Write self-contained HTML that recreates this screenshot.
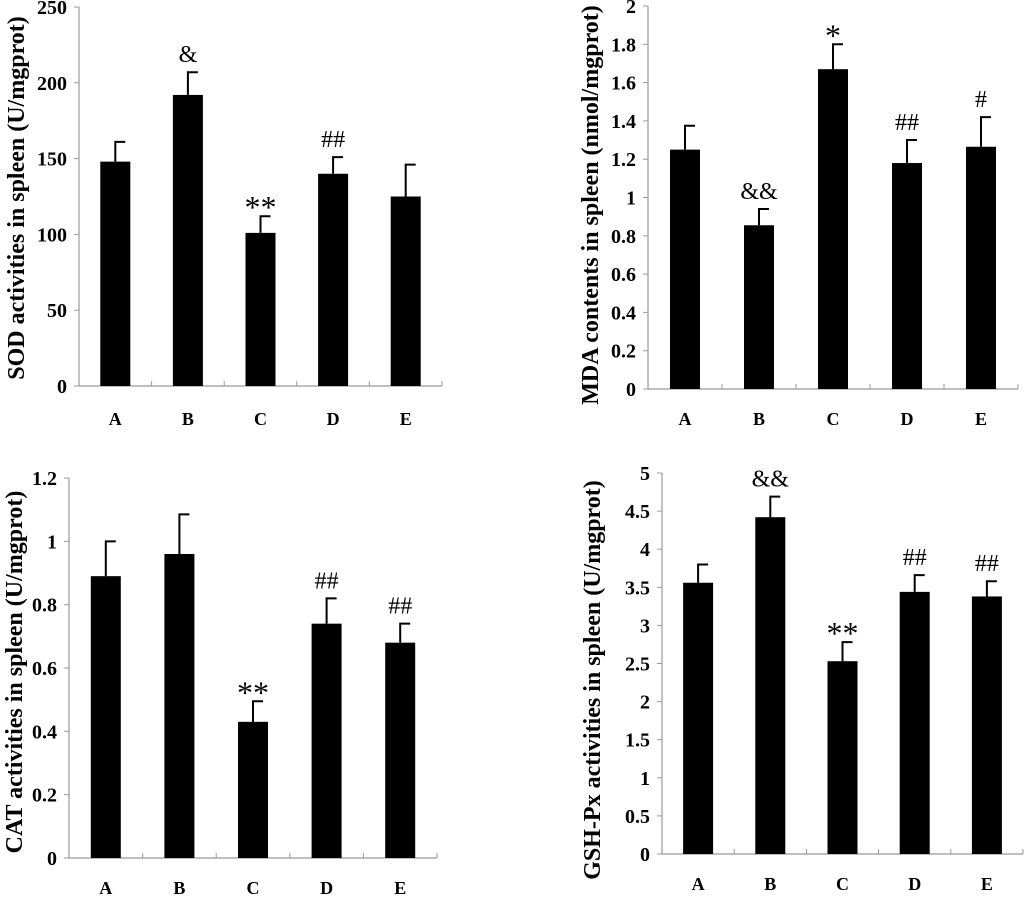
<!DOCTYPE html>
<html><head><meta charset="utf-8"><style>
body{margin:0;background:#fff;}
svg{display:block;font-family:"Liberation Serif",serif;}
.tick{font-weight:bold;font-size:20px;}
.cat{font-weight:bold;font-size:18px;}
.ttl{font-weight:bold;font-size:24px;}
.ann{font-size:24px;}
.star{font-size:32px;}
</style></head><body>
<svg id="c" width="1024" height="897"></svg>
<script>
const categories=["A","B","C","D","E"];
const sodValues=[148,192,101,140,125];
const sodErr=[161,207,112,151,146];
const sodMarks=["","&","**","##",""];
const sodTicks=[0,50,100,150,200,250];
const mdaValues=[1.25,0.855,1.67,1.18,1.265];
const mdaErr=[1.375,0.94,1.80,1.30,1.42];
const mdaMarks=["","&&","*","##","#"];
const mdaTicks=[0,0.2,0.4,0.6,0.8,1,1.2,1.4,1.6,1.8,2];
const catValues=[0.89,0.96,0.43,0.74,0.68];
const catErr=[1.0,1.085,0.495,0.82,0.74];
const catMarks=["","","**","##","##"];
const catTicks=[0,0.2,0.4,0.6,0.8,1,1.2];
const gshValues=[3.56,4.42,2.53,3.44,3.38];
const gshErr=[3.8,4.69,2.78,3.66,3.58];
const gshMarks=["","&&","**","##","##"];
const gshTicks=[0,0.5,1,1.5,2,2.5,3,3.5,4,4.5,5];

const NS="http://www.w3.org/2000/svg";
const svg=document.getElementById('c');
function mk(t,a,p){const e=document.createElementNS(NS,t);for(const k in a)e.setAttribute(k,a[k]);(p||svg).appendChild(e);return e;}

function panel(name,cfg){
  const g=mk('g',{});
  
  
  const {x0,x1,y0,yTop,max,ticks,vals,errs,marks,title,tx,ty,labY}=cfg;
  const ys=v=>y0-(v/max)*(y0-yTop);
  const band=(x1-x0)/categories.length;
  const xs=i=>x0+band*(i+0.5);
  const ax=mk('line',{x1:x0,y1:yTop,x2:x0,y2:y0,stroke:'#999','stroke-width':1.2},g);
  
  const bx=mk('line',{x1:x0,y1:y0,x2:x1,y2:y0,stroke:'#999','stroke-width':1.2},g);
  
  ticks.forEach(t=>{
    const y=ys(t);
    mk('line',{x1:x0-5,y1:y,x2:x0,y2:y,stroke:'#999'},g);
    const tl=mk('text',{x:x0-12,y:y+7,'text-anchor':'end',class:'tick'},g);
    tl.textContent=String(t);
    
  });
  for(let i=0;i<=categories.length;i++){const x=x0+band*i;mk('line',{x1:x,y1:y0,x2:x,y2:y0-5,stroke:'#999'},g);}
  categories.forEach((c,i)=>{
    const cx=xs(i);
    const b=mk('rect',{x:cx-15,y:ys(vals[i]),width:30,height:y0-ys(vals[i]),fill:'#000'},g);
    
    const ey=ys(errs[i]);
    const e=mk('path',{d:`M${cx} ${ys(vals[i])}V${ey}M${cx-1} ${ey}H${cx+10}`,stroke:'#000','stroke-width':2,fill:'none'},g);
    
    if(marks[i]){
      const isStar=marks[i].indexOf('*')>=0;
      const m=mk('text',{x:cx,y:isStar?ey+2:ey-10,'text-anchor':'middle',class:isStar?'star':'ann'},g);
      m.textContent=marks[i];
      
    }
    const l=mk('text',{x:cx,y:labY,'text-anchor':'middle',class:'cat'},g);
    l.textContent=c;
    
  });
  const tt=mk('text',{x:tx,y:ty,'text-anchor':'middle',class:'ttl',transform:`rotate(-90 ${tx} ${ty})`},g);
  tt.textContent=title;
  
}
panel('sod',{x0:79,x1:442,y0:386,yTop:7,max:250,ticks:sodTicks,vals:sodValues,errs:sodErr,marks:sodMarks,title:'SOD activities in spleen (U/mgprot)',tx:24,ty:198,labY:425});
panel('mda',{x0:648,x1:1018,y0:389,yTop:6,max:2,ticks:mdaTicks,vals:mdaValues,errs:mdaErr,marks:mdaMarks,title:'MDA contents in spleen (nmol/mgprot)',tx:598,ty:205,labY:425});
panel('cat',{x0:69,x1:437,y0:858,yTop:478,max:1.2,ticks:catTicks,vals:catValues,errs:catErr,marks:catMarks,title:'CAT activities in spleen (U/mgprot)',tx:22,ty:672,labY:894});
panel('gsh',{x0:662,x1:1023,y0:854,yTop:473,max:5,ticks:gshTicks,vals:gshValues,errs:gshErr,marks:gshMarks,title:'GSH-Px activities in spleen (U/mgprot)',tx:600,ty:680,labY:890});
</script>
</body></html>
